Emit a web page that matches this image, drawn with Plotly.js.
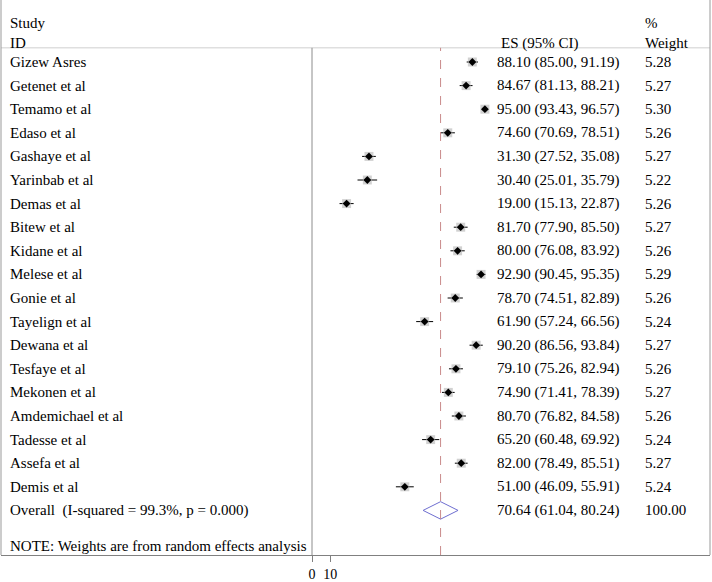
<!DOCTYPE html>
<html>
<head>
<meta charset="utf-8">
<script src="https://cdn.plot.ly/plotly-3.0.1.min.js"></script>
<style>html,body{margin:0;padding:0;background:#fff}#chart{width:712px;height:582px}</style>
</head>
<body>
<div id="chart"></div>
<script>
// ---- data ----
const studies = ["Gizew Asres","Getenet et al","Temamo et al","Edaso et al","Gashaye et al","Yarinbab et al","Demas et al","Bitew et al","Kidane et al","Melese et al","Gonie et al","Tayelign et al","Dewana et al","Tesfaye et al","Mekonen et al","Amdemichael et al","Tadesse et al","Assefa et al","Demis et al"];
const es     = [88.10,84.67,95.00,74.60,31.30,30.40,19.00,81.70,80.00,92.90,78.70,61.90,90.20,79.10,74.90,80.70,65.20,82.00,51.00];
const ciLow  = [85.00,81.13,93.43,70.69,27.52,25.01,15.13,77.90,76.08,90.45,74.51,57.24,86.56,75.26,71.41,76.82,60.48,78.49,46.09];
const ciHigh = [91.19,88.21,96.57,78.51,35.08,35.79,22.87,85.50,83.92,95.35,82.89,66.56,93.84,82.94,78.39,84.58,69.92,85.51,55.91];
const weights = [5.28,5.27,5.30,5.26,5.27,5.22,5.26,5.27,5.26,5.29,5.26,5.24,5.27,5.26,5.27,5.26,5.24,5.27,5.24];
const overallLabel = "Overall  (I-squared = 99.3%, p = 0.000)";
const overallES = 70.64, overallLow = 61.04, overallHigh = 80.24, overallWeight = 100.00;
const noteText = "NOTE: Weights are from random effects analysis";
const headerStudy = ["Study","ID"];
const headerES = "ES (95% CI)";
const headerWeight = ["%","Weight"];
const tickVals = [0,10];

// ---- layout helpers ----
const rows = studies.map((_, i) => i);
const overallRow = studies.length;
const noteRow = overallRow + 1.5;
const hdrRows = [-1.66, -0.8];
const sepRow = -0.6;
const yBottom = 20.89, yTop = -2.627;
const FONT = "Liberation Serif, Times New Roman, serif";
const fs = 15;
const fmt = v => v.toFixed(2);

const traces = [];
// CI lines
const cx = [], cy = [];
rows.forEach(i => { cx.push(ciLow[i], ciHigh[i], null); cy.push(i, i, null); });
traces.push({x: cx, y: cy, mode: 'lines', line: {color: '#000', width: 1}, hoverinfo: 'skip'});
// weight boxes
traces.push({x: es, y: rows, mode: 'markers', hoverinfo: 'skip',
  marker: {symbol: 'square', size: weights.map(w => Math.sqrt(w) * 3.9), color: '#bdbdbd', line: {width: 0}}});
// point estimates
traces.push({x: es, y: rows, mode: 'markers', hoverinfo: 'skip',
  marker: {symbol: 'diamond', size: 6, color: '#000'}});
// overall diamond
const dh = 0.37;
traces.push({x: [overallLow, overallES, overallHigh, overallES, overallLow],
  y: [overallRow, overallRow - dh, overallRow, overallRow + dh, overallRow],
  mode: 'lines', line: {color: '#6e6ed0', width: 1}, hoverinfo: 'skip'});

// text annotations
const xStudy = 7/709, xES = 494/709, xESh = 498/709, xW = 642/709;
const ann = [];
const addT = (x, y, t) => ann.push({xref: 'paper', yref: 'y', x: x, y: y, text: t, showarrow: false,
  xanchor: 'left', yanchor: 'middle', font: {family: FONT, size: fs, color: '#000'}});
addT(xStudy, hdrRows[0], headerStudy[0]);
addT(xStudy, hdrRows[1], headerStudy[1]);
addT(xESh, hdrRows[1], headerES);
addT(xW, hdrRows[0], headerWeight[0]);
addT(xW, hdrRows[1], headerWeight[1]);
rows.forEach(i => {
  addT(xStudy, i, studies[i]);
  addT(xES, i, `${fmt(es[i])} (${fmt(ciLow[i])}, ${fmt(ciHigh[i])})`);
  addT(xW, i, fmt(weights[i]));
});
addT(xStudy, overallRow, overallLabel);
addT(xES, overallRow, `${fmt(overallES)} (${fmt(overallLow)}, ${fmt(overallHigh)})`);
addT(xW, overallRow, fmt(overallWeight));
addT(xStudy, noteRow, noteText);

const shapes = [
  {type: 'line', xref: 'paper', yref: 'y', x0: 0, x1: 1, y0: sepRow, y1: sepRow, line: {color: '#cfcfcf', width: 1}},
  {type: 'line', xref: 'x', yref: 'y', x0: 0, x1: 0, y0: yBottom, y1: sepRow, line: {color: '#8c8c8c', width: 1}},
  {type: 'line', xref: 'x', yref: 'y', x0: overallES, x1: overallES, y0: yBottom, y1: sepRow, line: {color: '#c98a8a', width: 1, dash: 'dash'}},
  {type: 'line', xref: 'paper', yref: 'paper', x0: 0, x1: 0, y0: 0, y1: 1, line: {color: '#999', width: 1}},
  {type: 'line', xref: 'paper', yref: 'paper', x0: 1, x1: 1, y0: 0, y1: 1, line: {color: '#999', width: 1}}
];

const layout = {
  width: 712, height: 582,
  margin: {l: 1, r: 2, t: 0, b: 27},
  paper_bgcolor: '#fff', plot_bgcolor: '#fff',
  showlegend: false,
  xaxis: {range: [-170.88, 218.68], tickvals: tickVals, ticktext: tickVals.map(String),
    showgrid: false, zeroline: false, showline: true, linecolor: '#808080', linewidth: 1,
    ticks: 'outside', ticklen: 6, tickcolor: '#808080',
    tickfont: {family: FONT, size: 14, color: '#000'}},
  yaxis: {range: [yBottom, yTop], showgrid: false, zeroline: false, showticklabels: false, showline: false},
  annotations: ann,
  shapes: shapes
};
Plotly.newPlot('chart', traces, layout, {displayModeBar: false, staticPlot: true});
</script>
</body>
</html>
